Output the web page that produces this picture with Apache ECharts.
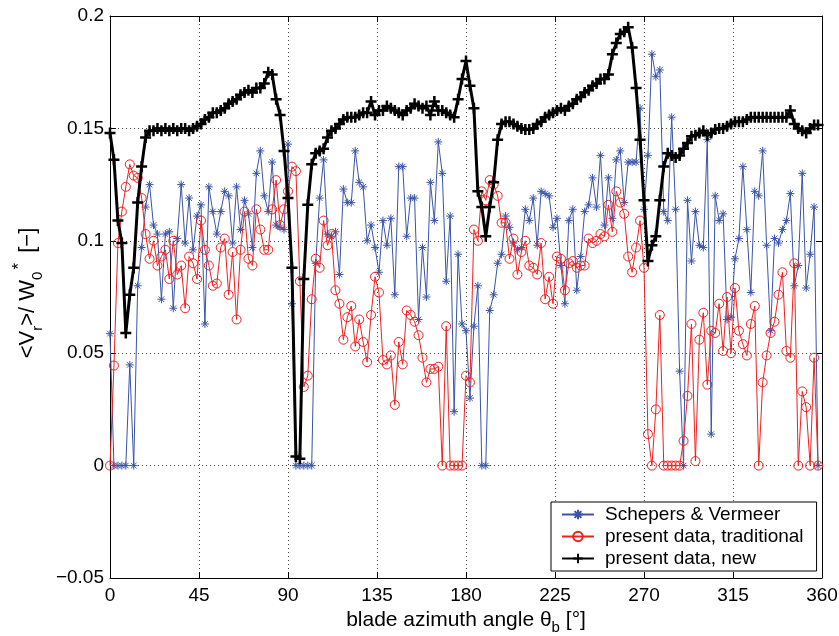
<!DOCTYPE html>
<html>
<head>
<meta charset="utf-8">
<script src="https://cdn.jsdelivr.net/npm/echarts@6/dist/echarts.min.js"></script>
<style>
  html, body { margin: 0; padding: 0; background: #fff; }
  #chart { width: 839px; height: 636px; }
</style>
</head>
<body>
<div id="chart"></div>
<script>
// blade azimuth angle, every 2 degrees (0..358)
const angleStep = 2

// Schepers & Vermeer
const schepers = [
  0.0587, 0, 0, 0, 0, 0.0448, 0, 0.080, 0.097, 0.115,
  0.125, 0.107, 0.103, 0.074, 0.103, 0.104, 0.070, 0.101, 0.125, 0.099,
  0.119, 0.096, 0.111, 0.116, 0.063, 0.124, 0.113, 0.103, 0.113, 0.122,
  0.120, 0.099, 0.124, 0.105, 0.118, 0.112, 0.097, 0.130, 0.140, 0.120,
  0.113, 0.135, 0.107, 0.106, 0.105, 0.143, 0.072, 0, 0, 0,
  0, 0, 0.090, 0.119, 0.136, 0.103, 0.102, 0.104, 0.085, 0.123,
  0.117, 0.117, 0.140, 0.126, 0.124, 0.100, 0.107, 0.097, 0.086, 0.109,
  0.098, 0.110, 0.076, 0.133, 0.133, 0.102, 0.119, 0.119, 0.065, 0.097,
  0.075, 0.126, 0.109, 0.144, 0.130, 0.082, 0.111, 0.024, 0.094, 0.063,
  0.060, 0.030, 0.062, 0.080, 0, 0, 0.069, 0.076, 0.090, 0.094,
  0.111, 0.106, 0.099, 0.096, 0.097, 0.114, 0.109, 0.119, 0.098, 0.122,
  0.121, 0.120, 0.106, 0.110, 0.089, 0.072, 0.109, 0.114, 0.078, 0.093,
  0.113, 0.116, 0.128, 0.115, 0.138, 0.107, 0.128, 0.110, 0.136, 0.140,
  0.117, 0.135, 0.135, 0.135, 0.159, 0.114, 0.138, 0.183, 0.173, 0.176,
  0.113, 0.109, 0.155, 0.114, 0.042, 0, 0.118, 0.091, 0.113, 0.098,
  0.097, 0.145, 0.014, 0.120, 0.109, 0.112, 0.065, 0.066, 0.092, 0.101,
  0.133, 0.105, 0.077, 0.122, 0.120, 0.140, 0.098, 0.060, 0.101, 0.099,
  0.105, 0.109, 0.121, 0.080, 0.089, 0.130, 0.079, 0.094, 0.115, 0
]

// present data, traditional
const traditional = [
  0, 0.0445, 0.099, 0.113, 0.124, 0.134, 0.129, 0.128, 0.119, 0.103,
  0.092, 0.100, 0.089, 0.093, 0.096, 0.083, 0.100, 0.085, 0.089, 0.070,
  0.093, 0.090, 0.083, 0.109, 0.096, 0.089, 0.080, 0.081, 0.097, 0.101,
  0.076, 0.095, 0.065, 0.096, 0.113, 0.092, 0.089, 0.114, 0.105, 0.096,
  0.096, 0.114, 0.127, 0.107, 0.114, 0.122, 0.133, 0.131, 0.082, 0.035,
  0.040, 0.074, 0.092, 0.088, 0.109, 0.098, 0.103, 0.078, 0.072, 0.056,
  0.066, 0.071, 0.053, 0.065, 0.055, 0.046, 0.067, 0.084, 0.077, 0.047,
  0.045, 0.049, 0.027, 0.055, 0.045, 0.069, 0.067, 0.064, 0.058, 0.048,
  0.037, 0.043, 0.043, 0.044, 0, 0.062, 0, 0, 0, 0,
  0.040, 0.037, 0.105, 0.100, 0.122, 0.118, 0.127, 0.125, 0.120, 0.108,
  0.108, 0.092, 0.101, 0.085, 0.095, 0.100, 0.089, 0.088, 0.085, 0.099,
  0.074, 0.084, 0.072, 0.093, 0.092, 0.078, 0.090, 0.091, 0.088, 0.089,
  0.089, 0.101, 0.099, 0.100, 0.103, 0.102, 0.116, 0.104, 0.122, 0.117,
  0.112, 0.093, 0.086, 0.097, 0.109, 0.088, 0.014, 0, 0.025, 0.067,
  0, 0, 0, 0, 0, 0.011, 0.031, 0.063, 0.002, 0.056,
  0.068, 0.036, 0.060, 0.059, 0.072, 0.051, 0.075, 0.050, 0.079, 0.060,
  0.054, 0.049, 0.063, 0.071, 0, 0.037, 0.049, 0.059, 0.064, 0.076,
  0.086, 0.051, 0.048, 0.090, 0, 0.033, 0.026, 0, 0.048, 0
]

// present data, new
const present = [
  0.148, 0.136, 0.109, 0.099, 0.059, 0.076, 0.088, 0.117, 0.133, 0.146,
  0.149, 0.149, 0.150, 0.149, 0.150, 0.149, 0.150, 0.149, 0.150, 0.150,
  0.149, 0.150, 0.151, 0.152, 0.154, 0.155, 0.157, 0.157, 0.158, 0.159,
  0.161, 0.162, 0.163, 0.165, 0.166, 0.167, 0.166, 0.168, 0.168, 0.170,
  0.175, 0.174, 0.163, 0.156, 0.140, 0.119, 0.088, 0.004, 0.003, 0.083,
  0.116, 0.134, 0.139, 0.140, 0.141, 0.146, 0.149, 0.150, 0.152, 0.154,
  0.155, 0.155, 0.155, 0.156, 0.157, 0.157, 0.162, 0.156, 0.158, 0.158,
  0.160, 0.159, 0.158, 0.157, 0.156, 0.158, 0.159, 0.161, 0.160, 0.159,
  0.160, 0.156, 0.162, 0.158, 0.158, 0.157, 0.156, 0.155, 0.163, 0.172,
  0.180, 0.169, 0.159, 0.122, 0.115, 0.102, 0.115, 0.126, 0.145, 0.152,
  0.153, 0.153, 0.152, 0.151, 0.150, 0.1495, 0.1495, 0.150, 0.152, 0.153,
  0.155, 0.156, 0.157, 0.158, 0.159, 0.158, 0.160, 0.161, 0.163, 0.164,
  0.166, 0.167, 0.169, 0.170, 0.172, 0.172, 0.174, 0.183, 0.188, 0.192,
  0.193, 0.195, 0.186, 0.168, 0.145, 0.118, 0.091, 0.098, 0.102, 0.118,
  0.133, 0.139, 0.138, 0.137, 0.138, 0.141, 0.1435, 0.1465, 0.147, 0.148,
  0.149, 0.147, 0.148, 0.1495, 0.150, 0.150, 0.151, 0.152, 0.153, 0.153,
  0.153, 0.154, 0.155, 0.155, 0.155, 0.155, 0.155, 0.155, 0.155, 0.155,
  0.155, 0.155, 0.158, 0.152, 0.150, 0.149, 0.148, 0.150, 0.1515, 0.1515
]

const seriesNames = ['Schepers & Vermeer', 'present data, traditional', 'present data, new']

const FONT = '"Liberation Sans", Arial, Helvetica, sans-serif'
const BLUE = '#3a55a8'
const RED = '#f02020'

const STAR = 'path://M0,5L10,5M5,0L5,10M1.5,1.5L8.5,8.5M1.5,8.5L8.5,1.5'
const PLUS = 'path://M0,5L10,5M5,0L5,10'

function pairs(values) {
  return values.map((v, i) => [i * angleStep, v])
}

function fmtY(v) {
  const s = String(parseFloat(v.toFixed(2)))
  return s.replace('-', '\u2212')
}

const chart = echarts.init(document.getElementById('chart'), null, { renderer: 'canvas' })

// top and right axes only close the box
const boxAxis = {
  axisLine: { show: true, onZero: false, lineStyle: { color: '#000', width: 1 } },
  axisTick: { show: true, inside: true, length: 6, lineStyle: { color: '#000' } },
  axisLabel: { show: false },
  splitLine: { show: false }
}

const option = {
  animation: false,
  backgroundColor: '#fff',
  grid: { left: 110, right: 17, top: 16, bottom: 58, outerBoundsMode: 'none', containLabel: false },
  legend: {
    data: seriesNames,
    orient: 'vertical',
    left: 551,
    top: 502,
    backgroundColor: '#fff',
    borderColor: '#000',
    borderWidth: 1,
    borderRadius: 0,
    padding: [2, 13, 2, 10],
    itemGap: 1,
    itemWidth: 32,
    itemHeight: 12,
    textStyle: { fontFamily: FONT, fontSize: 19, color: '#000', lineHeight: 21, padding: [0, 0, 0, 6] }
  },
  xAxis: [{
    type: 'value',
    min: 0,
    max: 360,
    interval: 45,
    name: '{n|blade azimuth angle θ}{sub|b}{n| [°]}',
    nameLocation: 'middle',
    nameGap: 25,
    nameTextStyle: {
      rich: {
        n: { fontFamily: FONT, fontSize: 21, color: '#000', lineHeight: 30, verticalAlign: 'middle' },
        sub: { fontFamily: FONT, fontSize: 15, color: '#000', lineHeight: 14, verticalAlign: 'bottom' }
      }
    },
    axisLine: { show: true, onZero: false, lineStyle: { color: '#000', width: 1 } },
    axisTick: { show: true, inside: true, length: 6, lineStyle: { color: '#000' } },
    axisLabel: { fontFamily: FONT, fontSize: 19, color: '#000', margin: 8 },
    splitLine: { show: true, lineStyle: { color: '#444', width: 1, type: [1, 3] } }
  }, Object.assign({ type: 'value', position: 'top', min: 0, max: 360, interval: 45 }, boxAxis)],
  yAxis: [{
    type: 'value',
    min: -0.05,
    max: 0.2,
    interval: 0.05,
    name: '{n|<V}{sub|r}{n|>/ W}{sub|0}{sup|*}{n| [\u2212]}',
    nameLocation: 'middle',
    nameRotate: 90,
    nameGap: 65,
    nameTextStyle: {
      padding: [0, 0, 0, 8],
      rich: {
        n: { fontFamily: FONT, fontSize: 22, color: '#000', lineHeight: 34, verticalAlign: 'middle' },
        sub: { fontFamily: FONT, fontSize: 15, color: '#000', lineHeight: 14, verticalAlign: 'bottom' },
        sup: { fontFamily: FONT, fontSize: 17, color: '#000', lineHeight: 14, verticalAlign: 'top', padding: [0, 4, 0, 2] }
      }
    },
    axisLine: { show: true, onZero: false, lineStyle: { color: '#000', width: 1 } },
    axisTick: { show: true, inside: true, length: 6, lineStyle: { color: '#000' } },
    axisLabel: { fontFamily: FONT, fontSize: 19, color: '#000', margin: 6, formatter: fmtY },
    splitLine: { show: true, lineStyle: { color: '#444', width: 1, type: [1, 3] } }
  }, Object.assign({ type: 'value', position: 'right', min: -0.05, max: 0.2, interval: 0.05 }, boxAxis)],
  series: [{
    name: seriesNames[0],
    type: 'line',
    data: pairs(schepers),
    symbol: STAR,
    symbolSize: 8,
    showAllSymbol: true,
    lineStyle: { color: BLUE, width: 1 },
    itemStyle: { color: BLUE, borderColor: BLUE, borderWidth: 1 },
    z: 2
  }, {
    name: seriesNames[1],
    type: 'line',
    data: pairs(traditional),
    symbol: 'circle',
    symbolSize: 9,
    showAllSymbol: true,
    lineStyle: { color: RED, width: 1 },
    itemStyle: { color: 'rgba(0,0,0,0)', borderColor: RED, borderWidth: 1 },
    z: 3
  }, {
    name: seriesNames[2],
    type: 'line',
    data: pairs(present),
    symbol: PLUS,
    symbolSize: 11,
    showAllSymbol: true,
    lineStyle: { color: '#000', width: 3 },
    itemStyle: { color: '#000', borderColor: '#000', borderWidth: 2.5 },
    z: 4
  }]
}

chart.setOption(option)
</script>
</body>
</html>
